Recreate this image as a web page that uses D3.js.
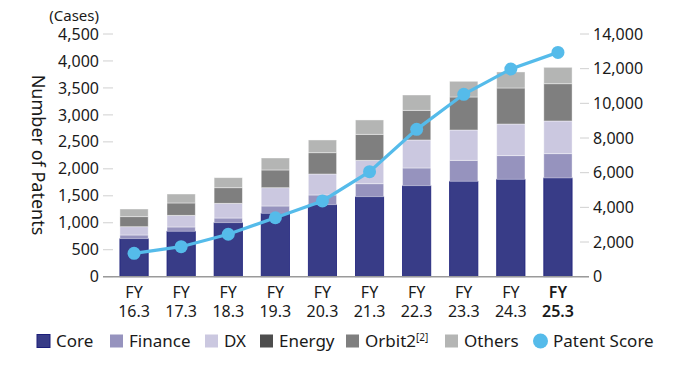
<!DOCTYPE html>
<html><head><meta charset="utf-8">
<script src="https://cdn.jsdelivr.net/npm/d3@7"></script>
<style>
body{margin:0;background:#fff;}
svg{font-family:"Noto Sans","Open Sans",sans-serif;}
</style></head>
<body><svg id="c" width="690" height="366"></svg>
<script>
const categories = ["16.3","17.3","18.3","19.3","20.3","21.3","22.3","23.3","24.3","25.3"];
const core    = [705, 842, 1001, 1175, 1335, 1483, 1687, 1769, 1806, 1830];
const finance = [68, 80, 87, 136, 180, 241, 329, 389, 438, 451];
const dx      = [154, 216, 273, 339, 389, 434, 519, 562, 587, 606];
const energy  = [0, 0, 0, 0, 0, 0, 0, 0, 0, 0];
const orbit2  = [186, 229, 289, 329, 395, 482, 550, 612, 668, 691];
const others  = [142, 166, 186, 222, 236, 266, 284, 291, 297, 304];
const patentScore = [1350, 1730, 2450, 3400, 4370, 6060, 8500, 10520, 11980, 12940];
const leftTicks = [0,500,1000,1500,2000,2500,3000,3500,4000,4500];
const rightTicks = [0,2000,4000,6000,8000,10000,12000,14000];

const seriesNames = ["Core","Finance","DX","Energy","Orbit2","Others"];
const seriesData = [core, finance, dx, energy, orbit2, others];
const colors = ["#383c87","#9693be","#cbc8e0","#4d4d4d","#7f7f7f","#b4b5b4"];
const lineColor = "#55bbea";

const svg = d3.select("#c");
const x = d3.scaleBand().domain(categories).range([110.5, 581.5]).paddingInner(0.4).paddingOuter(0.2);
const yL = d3.scaleLinear().domain([0,4500]).range([276.7, 34]);
const yR = d3.scaleLinear().domain([0,14000]).range([276.7, 34]);

const gL = svg.append("g");
leftTicks.forEach(t=>{
  gL.append("line").attr("x1",103).attr("x2",113).attr("y1",yL(t)).attr("y2",yL(t)).attr("stroke","#d0d0d0").attr("stroke-width",1);
  gL.append("text").attr("x",99).attr("y",yL(t)).attr("dy","0.35em").attr("text-anchor","end")
    .attr("font-size",16).attr("fill","#1a1a1a").text(d3.format(",")(t));
});
const gR = svg.append("g");
rightTicks.forEach(t=>{
  gR.append("line").attr("x1",580).attr("x2",589).attr("y1",yR(t)).attr("y2",yR(t)).attr("stroke","#d0d0d0").attr("stroke-width",1);
  gR.append("text").attr("x",593).attr("y",yR(t)).attr("dy","0.35em").attr("text-anchor","start")
    .attr("font-size",16).attr("fill","#1a1a1a").text(d3.format(",")(t));
});

svg.append("text").attr("x",99).attr("y",21).attr("text-anchor","end").attr("font-size",15).attr("fill","#1a1a1a").text("(Cases)");
svg.append("text").attr("transform","translate(32,155) rotate(90)").attr("text-anchor","middle")
  .attr("font-size",18).attr("fill","#1a1a1a").text("Number of Patents");

const table = categories.map((c,i)=>{const o={cat:c}; seriesNames.forEach((s,j)=>o[s]=seriesData[j][i]); return o;});
const stacked = d3.stack().keys(seriesNames)(table);
stacked.forEach((layer,j)=>{
  svg.append("g").selectAll("rect").data(layer).join("rect")
    .attr("x",d=>x(d.data.cat)).attr("width",x.bandwidth())
    .attr("y",d=>yL(d[1])).attr("height",d=>Math.max(0,yL(d[0])-yL(d[1])))
    .attr("fill",colors[j])
    .attr("stroke", j===0 ? "#1c1f7a" : "rgba(255,255,255,0.5)")
    .attr("stroke-width", 0.8);
});

svg.append("line").attr("x1",103).attr("x2",589).attr("y1",276.7).attr("y2",276.7).attr("stroke","#9a9a9a").attr("stroke-width",1.5);

categories.forEach((c,i)=>{
  const cx = x(c)+x.bandwidth()/2;
  const last = i===categories.length-1;
  const t = svg.append("text").attr("text-anchor","middle").attr("font-size",16).attr("fill","#1a1a1a")
     .attr("font-weight", last?600:400);
  t.append("tspan").attr("x",cx).attr("y",298).text("FY");
  t.append("tspan").attr("x",cx).attr("y",317).text(c);
});

const line = d3.line().x((d,i)=>x(categories[i])+x.bandwidth()/2).y(d=>yR(d));
svg.append("path").datum(patentScore).attr("d",line).attr("fill","none").attr("stroke",lineColor).attr("stroke-width",3.2);
svg.append("g").selectAll("circle").data(patentScore).join("circle")
  .attr("cx",(d,i)=>x(categories[i])+x.bandwidth()/2).attr("cy",d=>yR(d)).attr("r",6.5).attr("fill",lineColor);

const legendX = [37,110,205,260,346,445];
const lg = svg.append("g");
seriesNames.forEach((s,j)=>{
  lg.append("rect").attr("x",legendX[j]).attr("y",334.5).attr("width",13).attr("height",13)
    .attr("fill",colors[j]).attr("stroke", j===0?"#1c1f7a":"none").attr("stroke-width",1);
  const t = lg.append("text").attr("x",legendX[j]+19).attr("y",347).attr("font-size",17).attr("fill","#1a1a1a").text(s);
  if(s==="Orbit2"){ t.append("tspan").attr("font-size",10).attr("dy",-6).text("[2]"); }
});
lg.append("circle").attr("cx",540.5).attr("cy",341).attr("r",7.5).attr("fill",lineColor);
lg.append("text").attr("x",553).attr("y",347).attr("font-size",17).attr("fill","#1a1a1a").text("Patent Score");
</script></body></html>
